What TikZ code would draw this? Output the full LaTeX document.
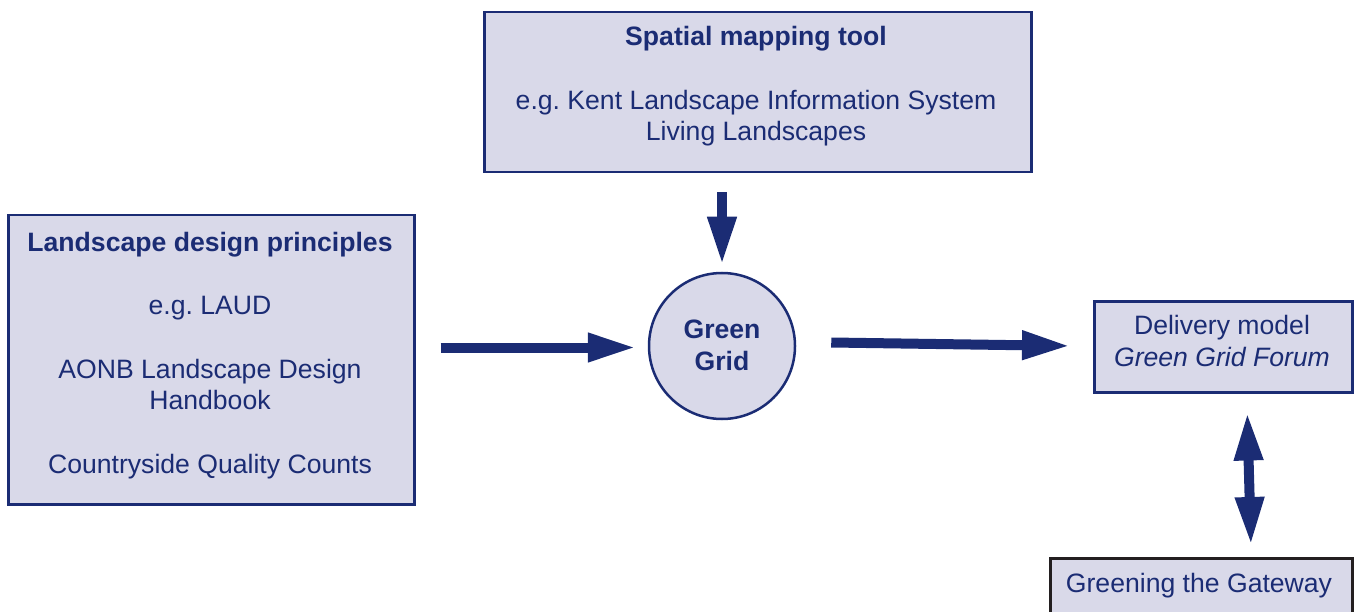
\documentclass[tikz,border=0pt]{standalone}
\usepackage{fontspec}
\setmainfont{Liberation Sans}
\usetikzlibrary{arrows.meta}
\frenchspacing
\definecolor{navy}{HTML}{1B2C74}
\definecolor{boxfill}{HTML}{D9D9E9}
\definecolor{darkline}{HTML}{231F20}
\begin{document}
\begin{tikzpicture}[x=1pt,y=-1pt,
  box/.style={draw=navy,line width=2.5pt,fill=boxfill,inner sep=0pt,anchor=north west},
  txt/.style={text=navy,align=center,anchor=base,inner sep=0pt,
    font=\fontsize{26.6}{31.5}\selectfont},
  bigarrow/.style={draw=navy,line width=10pt,
    -{Triangle[length=48pt,width=27pt]}},
  dblarrow/.style={draw=navy,line width=10pt,
    {Triangle[length=48pt,width=27pt]}-{Triangle[length=48pt,width=27pt]}}]
\useasboundingbox (0,0) rectangle (1359,612);
\begin{scope}
\clip (0,0) rectangle (1359,612);
% boxes
\node[box,minimum width=547pt,minimum height=160pt] (spatial) at (483,11) {};
\node[box,minimum width=406pt,minimum height=289pt] (landscape) at (7,214) {};
\node[draw=navy,line width=2.5pt,fill=boxfill,circle,minimum size=146pt,inner sep=0pt] (grid) at (722,346) {};
\node[box,minimum width=258pt,minimum height=91pt] (delivery) at (1093,300) {};
\node[box,draw=darkline,minimum width=302pt,minimum height=80pt] (greening) at (1049,557) {};
% texts (anchor base = baseline of last line)
\node[txt] (spatialtxt) at (756,141) {\textbf{Spatial mapping tool}\\[32pt]e.g. Kent Landscape Information System\\Living Landscapes};
\node[txt] (landscapetxt) at (210,473) {\textbf{Landscape design principles}\\[32pt]e.g. LAUD\\[32pt]AONB Landscape Design\\Handbook\\[32pt]Countryside Quality Counts};
\node[txt] (gridtxt) at (722,370) {\textbf{Green}\\\textbf{Grid}};
\node[txt] (deliverytxt) at (1222,366) {Delivery model\\\textit{Green Grid Forum}};
\node[txt] (greeningtxt) at (1199,592) {Greening the Gateway};
% connectors
\draw[bigarrow,shorten <=19pt,shorten >=7pt] (spatial.south -| grid.north) -- (grid.north);
\draw[bigarrow,shorten <=25pt,shorten >=12pt] ([yshift=-1.5pt]landscape.east |- grid.west) -- ([yshift=-1.5pt]grid.west);
\draw[bigarrow,shorten <=35pt,shorten >=23pt] ([yshift=4pt]grid.east) -- ([yshift=0.5pt]delivery.west);
\draw[dblarrow,shorten <=19pt,shorten >=12pt] ([xshift=23.5pt]delivery.south) -- ([xshift=50pt]greening.north);
\end{scope}
\end{tikzpicture}
\end{document}
